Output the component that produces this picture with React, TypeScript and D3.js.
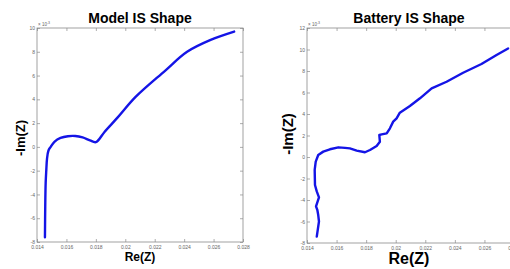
import * as d3 from "d3";
import { useEffect, useRef } from "react";

// Re(Z) / -Im(Z) values (Im in units of 1e-3)
const modelRe = [
  0.01454, 0.01456, 0.01459, 0.01463, 0.01468, 0.01478, 0.01493, 0.0152, 0.0156,
  0.0161, 0.0166, 0.0171, 0.0176, 0.018, 0.0186, 0.0195, 0.0207, 0.0227, 0.0242,
  0.0258, 0.0274,
];
const modelIm = [
  -7.6, -5, -3, -2, -1, -0.3, 0, 0.45, 0.75, 0.9, 0.92, 0.8, 0.55, 0.4, 1.28, 2.5,
  4.2, 6.4, 8.0, 9.0, 9.7,
];

const batteryRe = [
  0.01466, 0.01481, 0.01476, 0.0147, 0.01461, 0.01481, 0.01466, 0.01454, 0.01452,
  0.01459, 0.01476, 0.0151, 0.01555, 0.01612, 0.01657, 0.0169, 0.01736, 0.01792,
  0.01826, 0.01871, 0.01893, 0.01889, 0.01905, 0.01939, 0.01961, 0.01983, 0.02006,
  0.02028, 0.02096, 0.02164, 0.02243, 0.02344, 0.02456, 0.0258, 0.02682, 0.0276,
];
const batteryIm = [
  -7.41, -6.0, -5.4, -4.93, -4.6, -3.75, -3.2, -2.6, -1.2, -0.43, 0.19, 0.5, 0.72,
  0.9, 0.85, 0.8, 0.6, 0.44, 0.65, 1.02, 1.42, 2.05, 2.1, 2.2, 2.67, 3.29, 3.6,
  4.12, 4.74, 5.46, 6.39, 7.0, 7.84, 8.65, 9.49, 10.1,
];

const xTicks = [0.014, 0.016, 0.018, 0.02, 0.022, 0.024, 0.026, 0.028];
const xTickLabels = ["0.014", "0.016", "0.018", "0.02", "0.022", "0.024", "0.026", "0.028"];
const modelYTicks = [-8, -6, -4, -2, 0, 2, 4, 6, 8, 10];
const batteryYTicks = [-8, -6, -4, -2, 0, 2, 4, 6, 8, 10, 12];

const titles = ["Model IS Shape", "Battery IS Shape"];

export default function App() {
  const ref = useRef<SVGSVGElement>(null);

  useEffect(() => {
    document.body.style.margin = "0";
    const svg = d3.select(ref.current);
    svg.selectAll("*").remove();

    const font = "'Liberation Sans', Arial, sans-serif";

    function drawPanel(opts: any) {
      const x = d3.scaleLinear().domain([0.014, 0.028]).range([opts.left, opts.right]);
      const y = d3.scaleLinear().domain(opts.yDomain).range([opts.bottom, opts.top]);

      const g = svg.append("g");

      g.append("rect")
        .attr("x", opts.left)
        .attr("y", opts.top)
        .attr("width", opts.right - opts.left)
        .attr("height", opts.bottom - opts.top)
        .attr("fill", "#fff")
        .attr("stroke", "#8a8a8a")
        .attr("stroke-width", 0.8);

      // bottom axis with labels, ticks pointing in
      const bottomAxis = g
        .append("g")
        .attr("transform", "translate(0," + opts.bottom + ")")
        .call(
          d3
            .axisBottom(x)
            .tickValues(xTicks)
            .tickSizeInner(-3)
            .tickSizeOuter(0)
            .tickPadding(3)
            .tickFormat((d, i) => xTickLabels[i])
        );
      // top axis, ticks only
      const topAxis = g
        .append("g")
        .attr("transform", "translate(0," + opts.top + ")")
        .call(d3.axisTop(x).tickValues(xTicks).tickSizeInner(-3).tickSizeOuter(0).tickFormat(() => ""));

      const leftAxis = g
        .append("g")
        .attr("transform", "translate(" + opts.left + ",0)")
        .call(
          d3
            .axisLeft(y)
            .tickValues(opts.yTicks)
            .tickSizeInner(-3)
            .tickSizeOuter(0)
            .tickPadding(2)
            .tickFormat((d) => String(d))
        );
      const rightAxis = g
        .append("g")
        .attr("transform", "translate(" + opts.right + ",0)")
        .call(d3.axisRight(y).tickValues(opts.yTicks).tickSizeInner(-3).tickSizeOuter(0).tickFormat(() => ""));

      [bottomAxis, topAxis, leftAxis, rightAxis].forEach((a) => {
        a.select(".domain").remove();
        a.selectAll("line").attr("stroke", "#8a8a8a").attr("stroke-width", 0.7);
        a.selectAll("text")
          .attr("fill", "#666")
          .style("font-family", font)
          .style("font-size", "5px");
      });

      // exponent label
      const ex = g
        .append("text")
        .attr("x", opts.left + 1)
        .attr("y", opts.top - 2)
        .attr("fill", "#666")
        .style("font-family", font)
        .style("font-size", "4.5px");
      ex.append("tspan").text("\u00d7 10");
      ex.append("tspan").attr("dy", -2).style("font-size", "3.5px").text("-3");

      const pts = opts.re.map((r: number, i: number) => [r, opts.im[i]]);
      const line = d3
        .line()
        .x((d: any) => x(d[0]))
        .y((d: any) => y(d[1]))
        .curve(opts.curve);

      g.append("path")
        .datum(pts)
        .attr("d", line as any)
        .attr("fill", "none")
        .attr("stroke", "#1414e6")
        .attr("stroke-width", 2.4)
        .attr("stroke-linejoin", "round")
        .attr("stroke-linecap", "round");

      g.append("text")
        .attr("x", opts.titleX)
        .attr("y", 22.5)
        .attr("text-anchor", "middle")
        .style("font-family", font)
        .style("font-weight", "bold")
        .style("font-size", "14px")
        .text(opts.title);

      g.append("text")
        .attr("x", opts.titleX)
        .attr("y", opts.xLabelY)
        .attr("text-anchor", "middle")
        .style("font-family", font)
        .style("font-weight", "bold")
        .style("font-size", opts.labelSize + "px")
        .text("Re(Z)");

      g.append("text")
        .attr("transform", "translate(" + opts.yLabelX + "," + opts.yLabelY + ") rotate(-90)")
        .attr("text-anchor", "middle")
        .style("font-family", font)
        .style("font-weight", "bold")
        .style("font-size", opts.yLabelSize + "px")
        .text("-Im(Z)");
    }

    drawPanel({
      left: 37,
      right: 243,
      top: 28,
      bottom: 242,
      yDomain: [-8, 10],
      yTicks: modelYTicks,
      re: modelRe,
      im: modelIm,
      curve: d3.curveCatmullRom,
      title: titles[0],
      titleX: 140,
      xLabelY: 261,
      labelSize: 12,
      yLabelX: 25,
      yLabelY: 138,
      yLabelSize: 13,
    });

    drawPanel({
      left: 307,
      right: 514,
      top: 28,
      bottom: 243,
      yDomain: [-8, 12],
      yTicks: batteryYTicks,
      re: batteryRe,
      im: batteryIm,
      curve: d3.curveLinear,
      title: titles[1],
      titleX: 409,
      xLabelY: 264,
      labelSize: 16,
      yLabelX: 293,
      yLabelY: 134,
      yLabelSize: 15,
    });
  }, []);

  return <svg ref={ref} width={510} height={269} style={{ display: "block", background: "#fff" }}></svg>;
}
